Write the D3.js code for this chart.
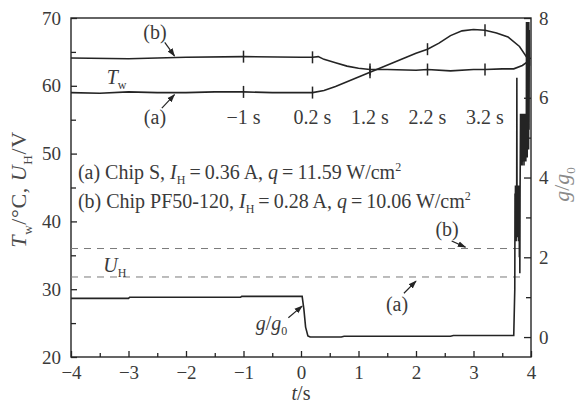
<!DOCTYPE html>
<html>
<head>
<meta charset="utf-8">
<script src="https://cdn.jsdelivr.net/npm/d3@7/dist/d3.min.js"></script>
<style>
body{margin:0;background:#fff;}
svg text{font-family:"Liberation Serif","Times New Roman","DejaVu Serif",serif;fill:#3a3a3a;}
</style>
</head>
<body>
<svg id="chart" width="579" height="409"></svg>
<script>
// ticks
const timeTicks = [-4, -3, -2, -1, 0, 1, 2, 3, 4];
const timeMinor = [-3.5, -2.5, -1.5, -0.5, 0.5, 1.5, 2.5, 3.5];
const leftTicks = [20, 30, 40, 50, 60, 70];
const leftMinor = [25, 35, 45, 55, 65];
const rightTicks = [0, 2, 4, 6, 8];
const rightMinor = [1, 3, 5, 7];

// time marks on the Tw curves
const markTimes = [-1, 0.2, 1.2, 2.2, 3.2];
const markLabels = ["\u22121 s", "0.2 s", "1.2 s", "2.2 s", "3.2 s"];

// wall temperature, chip S (a)
const twA = [[-4, 59.0], [-3.5, 58.9], [-3, 59.1], [-2.5, 59.0], [-2, 59.0], [-1.5, 59.1], [-1, 59.1],
  [-0.5, 59.0], [0, 59.0], [0.2, 59.0], [0.4, 59.3], [0.6, 59.9], [0.8, 60.6], [1.0, 61.3], [1.2, 62.0],
  [1.4, 62.7], [1.6, 63.4], [1.8, 64.1], [2.0, 64.8], [2.2, 65.4], [2.4, 66.3], [2.6, 67.4], [2.8, 68.1],
  [3.0, 68.3], [3.2, 68.2], [3.4, 67.8], [3.6, 67.2], [3.8, 65.8], [3.95, 63.9]];
// wall temperature, chip PF50-120 (b)
const twB = [[-4, 64.1], [-3, 64.0], [-2, 64.2], [-1, 64.3], [0, 64.2], [0.2, 64.2], [0.3, 64.3],
  [0.4, 63.9], [0.6, 63.4], [0.8, 62.9], [1.0, 62.6], [1.2, 62.4], [1.5, 62.4], [2.0, 62.3], [2.2, 62.4],
  [2.6, 62.2], [3.0, 62.4], [3.2, 62.4], [3.5, 62.5], [3.7, 62.5], [3.85, 63.0], [3.95, 63.6]];

// heater voltage levels
const uhLevels = [31.8, 36.0];
const uhEnd = 3.86;

// g/g0 ratio
const gRatio = [[-4.0, 0.97], [-3.0, 0.97], [-2.98, 1.0], [-1.05, 1.0], [-1.03, 1.02], [0.02, 1.02],
  [0.05, 0.7], [0.08, 0.25], [0.12, 0.03], [0.16, 0.0], [0.7, 0.0], [0.75, 0.02], [2.6, 0.02],
  [2.65, 0.04], [3.70, 0.04],
  [3.718, 1.2], [3.722, 3.6], [3.726, 2.5], [3.730, 3.8], [3.734, 2.6], [3.738, 3.7], [3.742, 2.4],
  [3.746, 3.8], [3.750, 2.6], [3.754, 6.5], [3.758, 2.5], [3.762, 3.7], [3.766, 2.6], [3.770, 3.8],
  [3.774, 2.5], [3.778, 3.6], [3.782, 2.4], [3.786, 3.8], [3.790, 2.6], [3.794, 3.7], [3.798, 2.0],
  [3.802, 3.6], [3.806, 1.6], [3.810, 3.7], [3.814, 4.6], [3.818, 5.6], [3.822, 4.4], [3.826, 5.5],
  [3.830, 4.3], [3.834, 5.6], [3.838, 4.5], [3.842, 5.4], [3.846, 4.3], [3.850, 5.6], [3.854, 4.6],
  [3.858, 5.5], [3.862, 4.4], [3.866, 5.3], [3.870, 4.5], [3.874, 5.6], [3.878, 4.3], [3.882, 5.5],
  [3.886, 4.6], [3.890, 5.4], [3.894, 4.4], [3.898, 5.6], [3.902, 4.5], [3.906, 5.5], [3.910, 4.4],
  [3.914, 5.6], [3.918, 4.6], [3.922, 7.9], [3.926, 4.6], [3.930, 7.8], [3.934, 4.5], [3.938, 7.9],
  [3.942, 4.8], [3.946, 7.9], [3.950, 5.0], [3.954, 7.8], [3.958, 4.7], [3.962, 7.9], [3.966, 5.2],
  [3.970, 7.7], [3.974, 6.8]];

const FONT = '"Liberation Serif", "Times New Roman", "DejaVu Serif", serif';
const EQ = "\u2009=\u2009";

class Chart {
  constructor(el) {
    this.svg = d3.select(el);
    this.left = 71; this.right = 531; this.top = 18; this.bottom = 357;
    this.x = d3.scaleLinear().domain([-4, 4]).range([this.left, this.right]);
    this.y = d3.scaleLinear().domain([20, 70]).range([this.bottom, this.top]);
    this.g = d3.scaleLinear().domain([-0.5, 8]).range([this.bottom, this.top]);
    this.ink = "#242424";
    this.defs();
    this.axes();
    this.series();
    this.notes();
  }

  defs() {
    this.svg.append("defs").append("marker")
      .attr("id", "head").attr("viewBox", "0 0 10 10").attr("refX", 9).attr("refY", 5)
      .attr("markerWidth", 7).attr("markerHeight", 7).attr("orient", "auto")
      .append("path").attr("d", "M0,1.5L10,5L0,8.5Z").attr("fill", this.ink);
  }

  styleAxis(sel) {
    sel.attr("font-family", null).attr("font-size", null);
    sel.selectAll("path").remove();
    sel.selectAll("line").attr("stroke", this.ink).attr("stroke-width", 1.3);
    sel.selectAll("text").attr("font-size", 19).attr("fill", "#3a3a3a").style("font-family", FONT);
  }

  axes() {
    const s = this.svg;
    const minus = d => d < 0 ? "\u2212" + Math.abs(d) : d;
    s.append("g").attr("transform", `translate(0,${this.bottom})`)
      .call(d3.axisBottom(this.x).tickValues(timeTicks).tickSizeInner(-6).tickSizeOuter(0).tickPadding(9).tickFormat(minus))
      .call(g => this.styleAxis(g));
    s.append("g").attr("transform", `translate(0,${this.bottom})`)
      .call(d3.axisBottom(this.x).tickValues(timeMinor).tickSizeInner(-4).tickSizeOuter(0).tickFormat(""))
      .call(g => this.styleAxis(g));
    s.append("g").attr("transform", `translate(${this.left},0)`)
      .call(d3.axisLeft(this.y).tickValues(leftTicks).tickSizeInner(-6).tickSizeOuter(0).tickPadding(10))
      .call(g => this.styleAxis(g));
    s.append("g").attr("transform", `translate(${this.left},0)`)
      .call(d3.axisLeft(this.y).tickValues(leftMinor).tickSizeInner(-5).tickSizeOuter(0).tickFormat(""))
      .call(g => this.styleAxis(g));
    s.append("g").attr("transform", `translate(${this.right},0)`)
      .call(d3.axisRight(this.g).tickValues(rightTicks).tickSizeInner(-7).tickSizeOuter(0).tickPadding(8))
      .call(g => this.styleAxis(g));
    s.append("g").attr("transform", `translate(${this.right},0)`)
      .call(d3.axisRight(this.g).tickValues(rightMinor).tickSizeInner(-5).tickSizeOuter(0).tickFormat(""))
      .call(g => this.styleAxis(g));
    // no empty labels on minor axes
    s.selectAll("text").filter(function () { return this.textContent === ""; }).remove();

    // frame
    s.append("rect")
      .attr("x", this.left).attr("y", this.top)
      .attr("width", this.right - this.left).attr("height", this.bottom - this.top)
      .attr("fill", "none").attr("stroke", this.ink).attr("stroke-width", 1.4);

    // axis titles
    this.rich(s.append("text").attr("text-anchor", "middle").attr("letter-spacing", 0.6)
      .attr("transform", `translate(26,${(this.top + this.bottom) / 2 + 2}) rotate(-90)`),
      [["T", "i"], ["w", "sub"], ["/\u00b0C, "], ["U", "i"], ["H", "sub"], ["/V"]], 22).style("fill", "#4a4a4a");
    this.rich(s.append("text").attr("text-anchor", "middle")
      .attr("x", this.x(0)).attr("y", 400),
      [["t", "i"], ["/s"]], 20);
    this.rich(s.append("text").attr("text-anchor", "middle")
      .attr("transform", `translate(569,${(this.top + this.bottom) / 2 - 3}) rotate(-90)`),
      [["g", "i"], ["/"], ["g", "i"], ["0", "sub"]], 22).style("fill", "#8a8a8a");
  }

  series() {
    const s = this.svg;
    const lineY = d3.line().x(d => this.x(d[0])).y(d => this.y(d[1]));
    const lineG = d3.line().x(d => this.x(d[0])).y(d => this.g(d[1]));

    s.append("g").selectAll("line").data(uhLevels).join("line")
      .attr("x1", this.x(-4)).attr("x2", this.x(uhEnd))
      .attr("y1", d => this.y(d)).attr("y2", d => this.y(d))
      .attr("stroke", "#7a7a7a").attr("stroke-width", 1).attr("stroke-dasharray", "7,6");

    s.append("g").selectAll("path").data([twA, twB]).join("path")
      .attr("d", lineY).attr("fill", "none").attr("stroke", this.ink).attr("stroke-width", 1.6);

    s.append("path").datum(gRatio).attr("d", lineG)
      .attr("fill", "none").attr("stroke", this.ink).attr("stroke-width", 1.6);

    // "+" time marks
    const at = (series, t) => {
      const i = d3.bisector(d => d[0]).left(series, t);
      if (i <= 0) return series[0][1];
      const a = series[i - 1], b = series[i];
      return a[1] + (b[1] - a[1]) * (t - a[0]) / (b[0] - a[0]);
    };
    const marks = [];
    markTimes.forEach(t => { marks.push([t, at(twA, t)]); marks.push([t, at(twB, t)]); });
    s.append("g").selectAll("line").data(marks).join("line")
      .attr("x1", d => this.x(d[0])).attr("x2", d => this.x(d[0]))
      .attr("y1", d => this.y(d[1]) - 6).attr("y2", d => this.y(d[1]) + 6)
      .attr("stroke", this.ink).attr("stroke-width", 1.5);

    s.append("g").selectAll("text").data(markTimes).join("text")
      .attr("x", d => this.x(d)).attr("y", this.y(54.4))
      .attr("text-anchor", "middle").attr("font-size", 20)
      .text((d, i) => markLabels[i].replace(" ", "\u00a0"));
  }

  // parts: [text, style] with style "i", "sub" or "sup"
  rich(text, parts, size) {
    text.attr("font-size", size);
    let shift = 0;
    parts.forEach(p => {
      const want = p[1] === "sub" ? size * 0.28 : p[1] === "sup" ? -size * 0.38 : 0;
      const ts = text.append("tspan").text(p[0]);
      if (want !== shift) ts.attr("dy", want - shift);
      shift = want;
      if (p[1] === "i") ts.attr("font-style", "italic");
      if (p[1] === "sub" || p[1] === "sup") ts.attr("font-size", size * 0.6);
    });
    return text;
  }

  arrow(from, to) {
    this.svg.append("line")
      .attr("x1", this.x(from[0])).attr("y1", this.y(from[1]))
      .attr("x2", this.x(to[0])).attr("y2", this.y(to[1]))
      .attr("stroke", this.ink).attr("stroke-width", 1.2).attr("marker-end", "url(#head)");
  }

  label(t, v, parts, anchor, size) {
    return this.rich(this.svg.append("text").attr("x", this.x(t)).attr("y", this.y(v))
      .attr("text-anchor", anchor || "start"), parts, size || 20);
  }

  notes() {
    this.label(-2.54, 66.9, [["(b)"]], "middle");
    this.arrow([-2.37, 66.4], [-2.2, 64.4]);
    this.label(-3.38, 60.3, [["T", "i"], ["w", "sub"]]);
    this.label(-2.54, 54.3, [["(a)"]], "middle");
    this.arrow([-2.42, 56.7], [-2.2, 58.7]);

    this.label(-3.88, 46.3, [["(a) Chip S, "], ["I", "i"], ["H", "sub"], [EQ + "0.36 A, "], ["q", "i"], [EQ + "11.59 W/cm"], ["2", "sup"]]);
    this.label(-3.88, 42.0, [["(b) Chip PF50-120, "], ["I", "i"], ["H", "sub"], [EQ + "0.28 A, "], ["q", "i"], [EQ + "10.06 W/cm"], ["2", "sup"]]);

    this.label(-3.44, 32.6, [["U", "i"], ["H", "sub"]]);
    this.label(2.54, 37.8, [["(b)"]], "middle");
    this.arrow([2.62, 37.1], [2.86, 36.2]);
    this.label(1.67, 26.8, [["(a)"]], "middle");
    this.arrow([1.79, 29.4], [2.0, 31.2]);

    this.label(-0.24, 24.0, [["g", "i"], ["/"], ["g", "i"], ["0", "sub"]], "end");
    this.arrow([-0.22, 25.8], [0.02, 27.5]);
  }
}

new Chart("#chart");
</script>
</body>
</html>
